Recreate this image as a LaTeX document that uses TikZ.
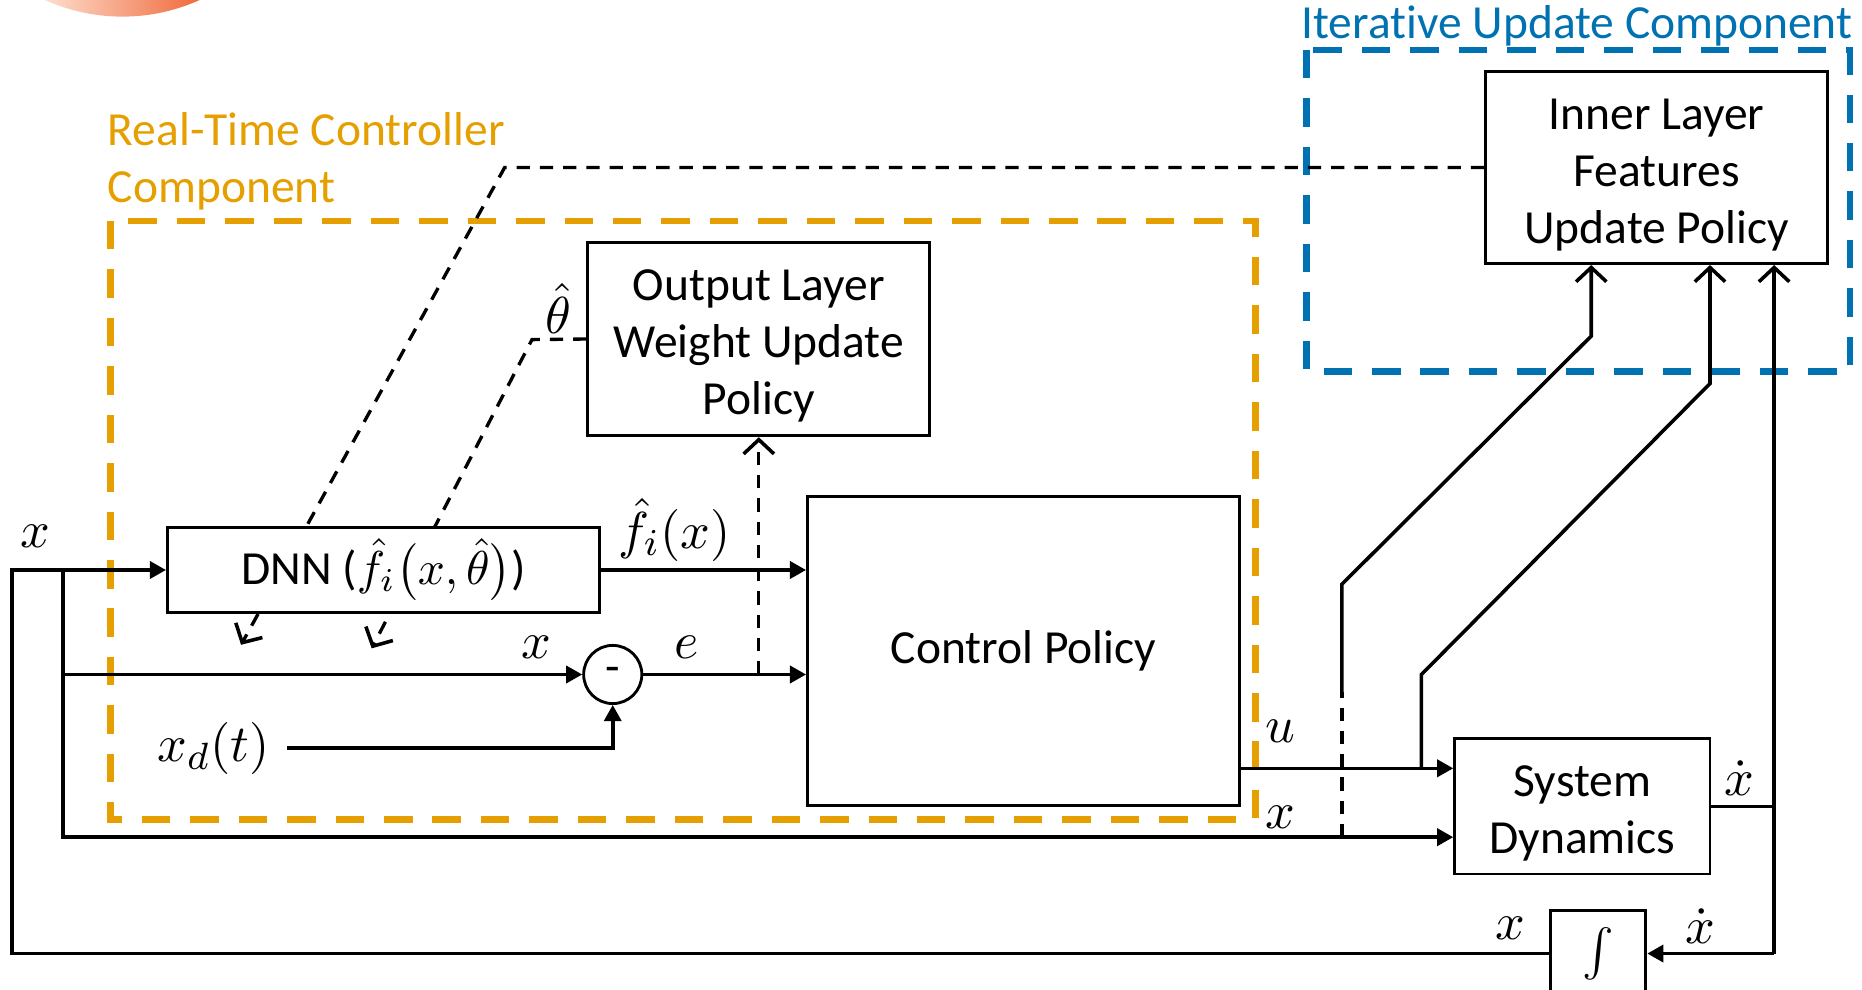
\documentclass[tikz,border=0pt]{standalone}
\usepackage{fontspec}
\setmainfont{Carlito}[Ligatures=NoCommon]
\usetikzlibrary{arrows.meta,calc}
\definecolor{rtorange}{HTML}{E69F00}
\definecolor{iublue}{HTML}{0072B2}
\definecolor{blobL}{HTML}{FDDDCC}
\definecolor{blobR}{HTML}{F06A3C}

% invisible top strut that nudges multi-line block text downwards
\newcommand{\toppad}[1]{\rule{0pt}{1.2pt}\\[#1]}

\begin{document}
\begin{tikzpicture}[x=0.25pt,y=-0.25pt,
  box/.style={draw, line width=0.6pt, fill=white, align=center, inner sep=0pt,
    font=\fontsize{10}{12}\selectfont},
  line/.style={line width=0.75pt},
  conn/.style={line, -{Triangle[length=3.4pt,width=3.6pt]}},
  barb/.style={-{Straight Barb[length=3pt,width=6.4pt,line width=0.75pt]}},
  dline/.style={line width=0.7pt, dash pattern=on 2.8pt off 2.1pt},
  region/.style={line width=1.4pt, dash pattern=on 6pt off 4.2pt},
  lbl/.style={font=\fontsize{10.95}{13}\selectfont, inner sep=0pt},
  regionlbl/.style={font=\fontsize{10}{12}\selectfont, inner sep=0pt},
]
\useasboundingbox (0,0) rectangle (1568,833);
\clip (0,0) rectangle (1568,833);

% decorative shaded disc in the top-left corner
\begin{scope}
  \clip (103,-144) circle[radius=39.5pt];
  \shade[left color=blobL, right color=blobR] (38,-10) rectangle (168,20);
\end{scope}

% component regions
\draw[region, rtorange] (93,186) rectangle (1057,690);
\draw[region, iublue] (1100,42) rectangle (1558,313);
\node[regionlbl, text=rtorange, anchor=west, align=left] (rtlbl) at (90,136)
  {Real-Time Controller\\Component};
\node[regionlbl, text=iublue] (iulbl) at (1328,22) {Iterative Update Component};

% update policy blocks
\node[box, minimum width=72pt, minimum height=40.5pt] (inner) at (1395,141)
  {\toppad{-3.4pt}Inner Layer\\Features\\Update Policy};
\node[box, minimum width=72pt, minimum height=40.75pt] (out) at (639,285.5)
  {\toppad{-3.9pt}Output Layer\\Weight Update\\Policy};

% parameter feedback into the DNN (drawn beneath the DNN block)
\coordinate (ilk) at (425,141);
\coordinate (ilend) at (203,543);
\draw[dline, barb] (inner.west) -- (ilk) -- (ilend);
\coordinate (thk) at (448,286);
\coordinate (thend) at (313,546);
\draw[dline, barb] (out.west) -- (thk) -- (thend);
\node[lbl] (thlbl) at (470,260) {$\hat{\theta}$};

% main blocks
\node[box, minimum width=91pt, minimum height=18pt] (dnn) at (323,480)
  {DNN ($\hat{f}_i\bigl(x,\hat{\theta}\bigr)$)};
\node[box, minimum width=91pt, minimum height=65pt] (cp) at (862,548) {Control Policy};
\node[draw, circle, line width=0.6pt, minimum size=12.25pt, inner sep=0pt, fill=white,
  font=\fontsize{10}{12}\selectfont] (sub) at (516,568) {-};
\node[box, minimum width=53.75pt, minimum height=28.5pt] (sd) at (1332.5,679)
  {\toppad{-3.9pt}System\\Dynamics};
\node[box, minimum width=20pt, minimum height=18pt, font=\fontsize{10.95}{13}\selectfont]
  (int) at (1346,803) {$\int$};

% state feedback loop
\coordinate (xin) at (10,480);
\coordinate (br) at (53,480);
\draw[conn] (int.west) -| (xin) -- (dnn.west);
\node[lbl] (xlbl1) at (30,452) {$x$};
\node[lbl] (xlbl5) at (1272,782) {$x$};

% input ports of the system dynamics block
\coordinate (uin) at ([yshift=8pt]sd.west);
\coordinate (xsd) at ([yshift=-6.5pt]sd.west);
\draw[conn] (br) |- (xsd);
\node[lbl] (xlbl4) at (1078,688) {$x$};

% tracking error
\draw[conn] (br |- sub.west) -- (sub.west);
\node[lbl] (xlbl2) at (452,545) {$x$};
\node[lbl, anchor=east] (xd) at (228,630) {$x_d(t)$};
\draw[conn] ([xshift=3.5pt]xd.east) -| (sub.south);
\draw[conn] (sub.east) -- (sub.east -| cp.west);
\node[lbl] (elbl) at (578,545) {$e$};
\coordinate (etap) at (out.south |- sub.east);
\draw[dline, barb] (etap) -- (out.south);

% DNN estimate into the controller
\draw[conn] (dnn.east) -- (dnn.east -| cp.west);
\node[lbl] (flbl) at (568,446) {$\hat{f}_i(x)$};

% control input
\draw[conn] (cp.east |- uin) -- (uin);
\node[lbl] (ulbl) at (1078,616) {$u$};

% signals into the inner layer update policy
\coordinate (inA) at ([xshift=-13.75pt]inner.south);
\coordinate (inB) at ([xshift=11.25pt]inner.south);
\coordinate (xdcol) at ([xshift=24.75pt]inner.south);

\coordinate (ub) at (1197,647);
\coordinate (ubk) at (1197,568);
\coordinate (ubt) at (1440,323);
\draw[line, barb] (ub) -- (ubk) -- (ubt) -- (inB);

\coordinate (xb) at (1130,705);
\coordinate (xbm) at (1130,583);
\coordinate (xbk) at (1130,492);
\coordinate (xbt) at (1340,283);
\draw[dline] (xb) -- (xbm);
\draw[line, barb] (xbm) -- (xbk) -- (xbt) -- (inA);

% state derivative
\draw[line] (sd.east) -- (sd.east -| xdcol);
\draw[line, barb] (xdcol |- int.east) -- (xdcol);
\draw[conn] (xdcol |- int.east) -- (int.east);
\node[lbl] (xdot1) at (1465,655) {$\dot{x}$};
\node[lbl] (xdot2) at (1432,780) {$\dot{x}$};
\end{tikzpicture}
\end{document}
